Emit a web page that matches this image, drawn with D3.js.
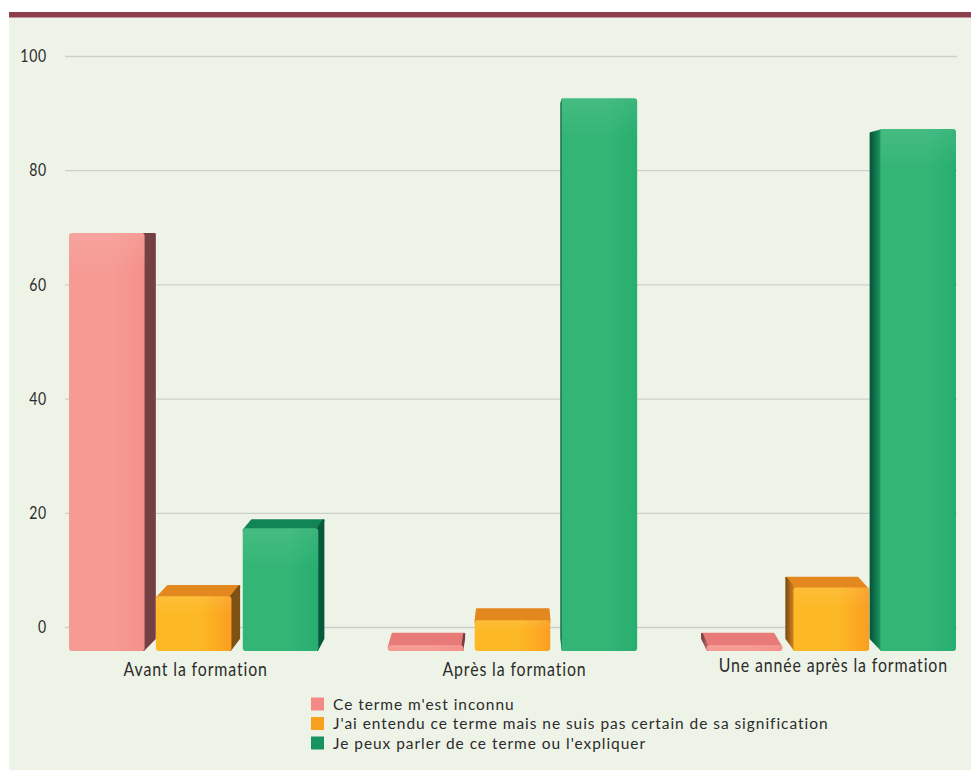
<!DOCTYPE html>
<html>
<head>
<meta charset="utf-8">
<script src="https://cdn.jsdelivr.net/npm/d3@7"></script>
<style>
  html, body { margin: 0; padding: 0; background: #fff; }
  text { font-family: Lato, sans-serif; fill: #2b2b2b; letter-spacing: 1px; }
</style>
</head>
<body>
<div id="chart"></div>
<script>
const categories = ["Avant la formation", "Après la formation", "Une année après la formation"];
const seriesNames = [
  "Ce terme m'est inconnu",
  "J'ai entendu ce terme mais ne suis pas certain de sa signification",
  "Je peux parler de ce terme ou l'expliquer"
];
const inconnu = [69, -3.2, -3.2];
const entendu = [5.4, 1.2, 6.9];
const expliquer = [17.3, 92.6, 87.2];
const seriesValues = [inconnu, entendu, expliquer];
const yTicks = [0, 20, 40, 60, 80, 100];

// colours per series
const legendColors = ["#f58a84", "#f9a01f", "#17935f"];
const frontLeft = ["#f69a94", "#fdb825", "#33b576"];
const frontRight = ["#f49089", "#fb9e20", "#27ae6f"];
const roofColors = ["#e87a78", "#e3871f", "#128555"];
const sideDark = ["#744044", "#7e5214", "#06583a"];
const sideLight = ["#c86a6a", "#e3871f", "#1f9a64"];

const width = 971, height = 771;
const floorValue = -4.2; // bars stand on a floor below the zero line
const squeeze = 0.86; // reference font is narrower than Lato

const svg = d3.select("#chart").append("svg")
  .attr("width", width)
  .attr("height", height)
  .style("display", "block");

// panel
svg.append("rect").attr("x", 9).attr("y", 12).attr("width", 962).attr("height", 758).attr("fill", "#eef3e7");
svg.append("rect").attr("x", 9).attr("y", 12).attr("width", 962).attr("height", 5.5).attr("fill", "#8e3f4e");

const y = d3.scaleLinear().domain([0, 100]).range([627, 56]);
const x0 = d3.scaleBand().domain(categories).range([69, 956]).paddingInner(0.218);
const x1 = d3.scaleBand().domain(seriesNames).range([0, x0.bandwidth()]).paddingInner(0.13);

// axis + grid
const yAxis = svg.append("g")
  .attr("transform", "translate(65,0)")
  .call(d3.axisLeft(y).tickValues(yTicks).tickSize(-892).tickPadding(18));
yAxis.select(".domain").remove();
yAxis.selectAll("line").attr("stroke", "#cdd0ca").attr("stroke-width", 1.3);
yAxis.selectAll("text")
  .attr("x", -18 / 0.78)
  .attr("transform", "scale(0.78,1)")
  .style("font-size", "18px")
  .style("font-family", "Lato, sans-serif")
  .attr("fill", "#2b2b2b");

// gradients
const defs = svg.append("defs");
seriesNames.forEach((s, i) => {
  const g = defs.append("linearGradient").attr("id", "front" + i);
  g.append("stop").attr("offset", "0%").attr("stop-color", frontLeft[i]);
  g.append("stop").attr("offset", "60%").attr("stop-color", frontLeft[i]);
  g.append("stop").attr("offset", "100%").attr("stop-color", frontRight[i]);
  const l = defs.append("linearGradient").attr("id", "left" + i);
  l.append("stop").attr("offset", "0%").attr("stop-color", sideDark[i]);
  l.append("stop").attr("offset", "100%").attr("stop-color", sideLight[i]);
});
// soft light along the top edge
const shine = defs.append("linearGradient").attr("id", "shine").attr("x1", 0).attr("x2", 0).attr("y1", 0).attr("y2", 1);
shine.append("stop").attr("offset", "0%").attr("stop-color", "#fff").attr("stop-opacity", 0.09);
shine.append("stop").attr("offset", "100%").attr("stop-color", "#fff").attr("stop-opacity", 0);

// every bar is a box pushed back toward one vanishing point
const vanishX = 520, vanishY = 234, depth = 0.03;
const backX = px => px + depth * (vanishX - px);
const backY = py => py + depth * (vanishY - py);
const pts = list => list.map(p => p.join(",")).join(" ");

categories.forEach((cat, c) => {
  seriesNames.forEach((name, s) => {
    const left = x0(cat) + x1(name);
    const right = left + x1.bandwidth();
    const top = y(seriesValues[s][c]);
    const bottom = y(floorValue);
    const bar = svg.append("g").attr("class", "bar");

    // roof
    if (backY(top) < top) {
      bar.append("polygon")
        .attr("points", pts([[left + 1, top + 2], [backX(left) + 1, backY(top) + 1], [backX(right) - 1, backY(top) + 1], [right - 1, top + 2]]))
        .attr("fill", roofColors[s])
        .attr("stroke", roofColors[s])
        .attr("stroke-width", 2.5)
        .attr("stroke-linejoin", "round");
    }
    // right side
    if (backX(right) > right) {
      bar.append("polygon")
        .attr("points", pts([[right - 1, top + 1], [backX(right) - 1, backY(top) + 1], [backX(right) - 1, backY(bottom)], [right - 1, bottom - 1]]))
        .attr("fill", sideDark[s])
        .attr("stroke", sideDark[s])
        .attr("stroke-width", 2)
        .attr("stroke-linejoin", "round");
    }
    // left side
    if (backX(left) < left) {
      bar.append("polygon")
        .attr("points", pts([[left + 1, top + 1], [backX(left) + 1, backY(top) + 1], [backX(left) + 1, backY(bottom)], [left + 1, bottom - 1]]))
        .attr("fill", "url(#left" + s + ")")
        .attr("stroke", "url(#left" + s + ")")
        .attr("stroke-width", 2)
        .attr("stroke-linejoin", "round");
    }
    // front
    bar.append("rect")
      .attr("x", left)
      .attr("y", top)
      .attr("width", x1.bandwidth())
      .attr("height", bottom - top)
      .attr("rx", 3)
      .attr("fill", "url(#front" + s + ")");
    bar.append("rect")
      .attr("x", left)
      .attr("y", top)
      .attr("width", x1.bandwidth())
      .attr("height", Math.min(40, (bottom - top) / 3))
      .attr("rx", 3)
      .attr("fill", "url(#shine)");
  });
});

// category labels
svg.selectAll(".cat")
  .data(categories)
  .join("text")
  .attr("class", "cat")
  .attr("transform", (d, i) => `translate(${x0(d) + x0.bandwidth() / 2 + 2},${i === 2 ? 672 : 676}) scale(${squeeze},1)`)
  .attr("text-anchor", "middle")
  .style("font-size", "18.5px")
  .text(d => d);

// legend, lines are tight so the font is a bit smaller here
const legendY = d3.scalePoint().domain(seriesNames).range([704, 743]);
seriesNames.forEach((name, i) => {
  svg.append("rect")
    .attr("x", 311)
    .attr("y", legendY(name) - 6.5)
    .attr("width", 13)
    .attr("height", 13)
    .attr("fill", legendColors[i]);
  svg.append("text")
    .attr("transform", `translate(333,${legendY(name) + 5.5}) scale(0.967,1)`)
    .style("font-size", "16px")
    .text(name);
});
</script>
</body>
</html>
